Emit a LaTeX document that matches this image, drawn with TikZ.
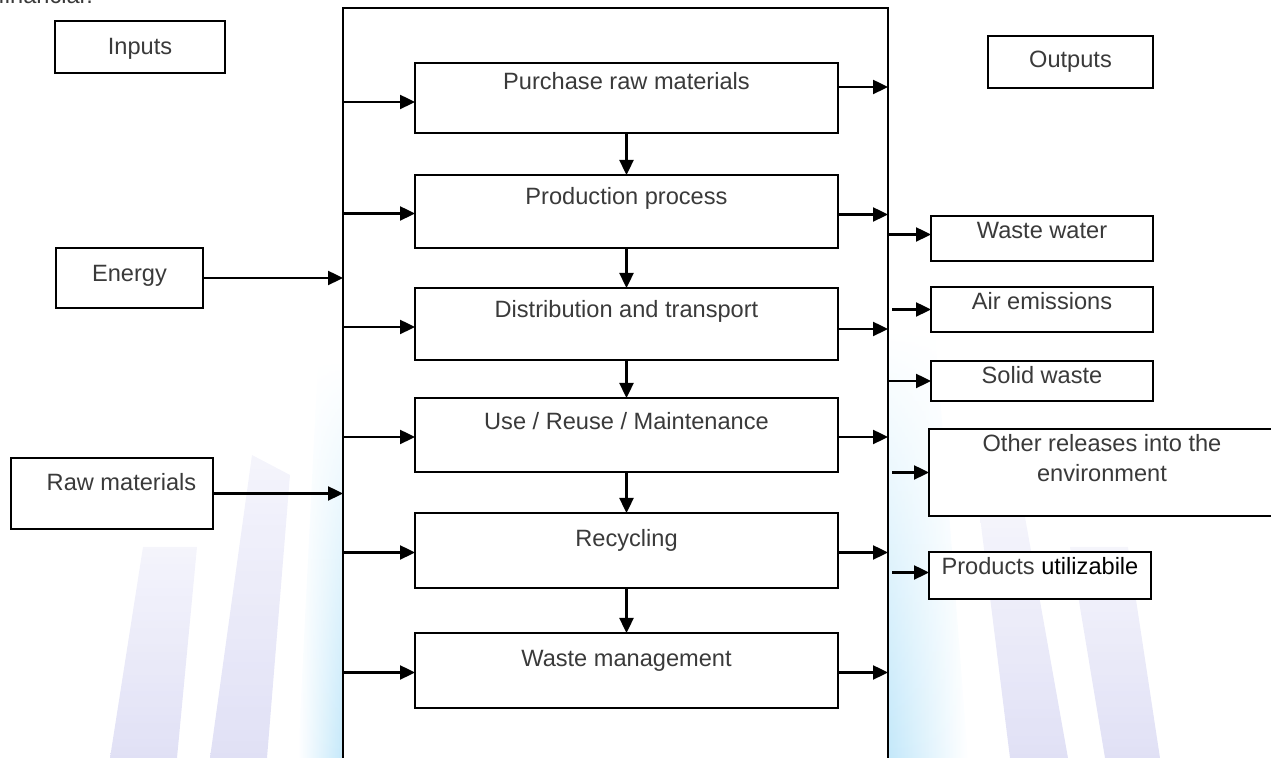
\documentclass[tikz,border=0pt]{standalone}
\usepackage{fontspec}
\setmainfont{Liberation Sans}
\usetikzlibrary{arrows.meta,fadings}
\definecolor{ink}{HTML}{3A3A3A}
\definecolor{wmblue}{RGB}{196,232,250}
\definecolor{wmlav}{RGB}{214,214,242}
\tikzfading[name=bandfade, top color=transparent!100,
  middle color=transparent!15, bottom color=transparent!0]
\begin{document}
\begin{tikzpicture}[x=0.5pt,y=-0.5pt,
  box/.style={draw=black, line width=1pt, fill=white, anchor=north west,
              inner sep=0pt, outer sep=0pt},
  txt/.style={anchor=base, inner sep=0pt, text=ink,
              font=\fontsize{11.8}{15}\selectfont},
  arr/.style={line width=1.2pt, -{Triangle[length=7.5pt,width=7pt]}},
  band/.style={path fading=bandfade},
  bar/.style={top color=wmlav!35, bottom color=wmlav, opacity=0.75}]
\useasboundingbox (0,0) rectangle (1271,758);
\clip (0,0) rectangle (1271,758);

% faint background bands
\shade[band, left color=white, right color=wmblue] (318,360) -- (343,360) -- (343,758) -- (298,758) -- cycle;
\shade[band, left color=wmblue, right color=white] (889,330) -- (935,330) -- (968,758) -- (889,758) -- cycle;
\shade[bar] (143,547) -- (197,547) -- (177,758) -- (110,758) -- cycle;
\shade[bar] (252,455) -- (290,475) -- (267,758) -- (210,758) -- cycle;
\shade[bar] (980,517) -- (1025,517) -- (1068,758) -- (1010,758) -- cycle;
\shade[bar] (1070,547) -- (1128,547) -- (1160,758) -- (1105,758) -- cycle;

% sentence ending above the figure
\node[txt, anchor=base west] (prev) at (-2,4) {financiar.};

% main life-cycle frame (open at the bottom)
\node[box, minimum width=272.5pt, minimum height=400pt] (main) at (343,8) {};

% input side
\node[box, minimum width=85pt, minimum height=26pt] (inputs) at (55,21) {};
\node[txt] (inputsT) at (140,55) {Inputs};
\node[box, minimum width=73.5pt, minimum height=30pt] (energy) at (56,248) {};
\node[txt] (energyT) at (129.5,282) {Energy};
\node[box, minimum width=101pt, minimum height=35.5pt] (raw) at (11,458) {};
\node[txt] (rawT) at (121.5,491) {Raw materials};

% stages
\node[box, minimum width=211.5pt, minimum height=35pt]   (p1) at (415,63)  {};
\node[box, minimum width=211.5pt, minimum height=36.5pt] (p2) at (415,175) {};
\node[box, minimum width=211.5pt, minimum height=36pt]   (p3) at (415,288) {};
\node[box, minimum width=211.5pt, minimum height=37pt]   (p4) at (415,398) {};
\node[box, minimum width=211.5pt, minimum height=37.5pt] (p5) at (415,513) {};
\node[box, minimum width=211.5pt, minimum height=37.5pt] (p6) at (415,633) {};
\node[txt] (p1T) at (626.5,90)  {Purchase raw materials};
\node[txt] (p2T) at (626.5,205) {Production process};
\node[txt] (p3T) at (626.5,318) {Distribution and transport};
\node[txt] (p4T) at (626.5,430) {Use / Reuse / Maintenance};
\node[txt] (p5T) at (626.5,547) {Recycling};
\node[txt] (p6T) at (626.5,667) {Waste management};

% output side
\node[box, minimum width=82.5pt, minimum height=26pt] (outputs) at (988,36) {};
\node[txt] (outputsT) at (1070.5,68) {Outputs};
\node[box, minimum width=111pt, minimum height=22.5pt] (ww) at (931,216) {};
\node[txt] (wwT) at (1042,239) {Waste water};
\node[box, minimum width=111pt, minimum height=22.5pt] (air) at (931,287) {};
\node[txt] (airT) at (1042,310) {Air emissions};
\node[box, minimum width=111pt, minimum height=20pt] (solid) at (931,361) {};
\node[txt] (solidT) at (1042,384) {Solid waste};
\node[box, minimum width=173pt, minimum height=43.5pt] (other) at (929,429) {};
\node[txt] (otherT1) at (1102,452) {Other releases into the};
\node[txt] (otherT2) at (1102,482) {environment};
\node[box, minimum width=111pt, minimum height=23.5pt] (prod) at (929,552) {};
\node[txt] (prodT) at (1040,575) {Products \textcolor{black}{utilizabile}};

% inputs into the frame
\draw[arr] (energy.east) -- (energy.east -| main.west);
\draw[arr] (raw.east) -- (raw.east -| main.west);

% frame into each stage
\draw[arr] ([yshift=-2pt]p1.west -| main.west) -- ([yshift=-2pt]p1.west);
\draw[arr] ([yshift=-1pt]p2.west -| main.west) -- ([yshift=-1pt]p2.west);
\draw[arr] ([yshift=-1.5pt]p3.west -| main.west) -- ([yshift=-1.5pt]p3.west);
\draw[arr] ([yshift=-1pt]p4.west -| main.west) -- ([yshift=-1pt]p4.west);
\draw[arr] ([yshift=-1pt]p5.west -| main.west) -- ([yshift=-1pt]p5.west);
\draw[arr] ([yshift=-1pt]p6.west -| main.west) -- ([yshift=-1pt]p6.west);

% stage to stage
\draw[arr] (p1.south) -- (p2.north);
\draw[arr] (p2.south) -- (p3.north);
\draw[arr] (p3.south) -- (p4.north);
\draw[arr] (p4.south) -- (p5.north);
\draw[arr] (p5.south) -- (p6.north);

% each stage out to the frame
\draw[arr] ([yshift=5.5pt]p1.east) -- ([yshift=5.5pt]p1.east -| main.east);
\draw[arr] ([yshift=-1.5pt]p2.east) -- ([yshift=-1.5pt]p2.east -| main.east);
\draw[arr] ([yshift=-2.5pt]p3.east) -- ([yshift=-2.5pt]p3.east -| main.east);
\draw[arr] ([yshift=-1pt]p4.east) -- ([yshift=-1pt]p4.east -| main.east);
\draw[arr] ([yshift=-1pt]p5.east) -- ([yshift=-1pt]p5.east -| main.east);
\draw[arr] ([yshift=-1pt]p6.east) -- ([yshift=-1pt]p6.east -| main.east);

% frame out to the releases
\draw[arr] ([yshift=2pt]ww.west -| main.east) -- ([yshift=2pt]ww.west);
\draw[arr] ([xshift=2pt]air.west -| main.east) -- (air.west);
\draw[arr] (solid.west -| main.east) -- (solid.west);
\draw[arr] ([xshift=2pt]other.west -| main.east) -- (other.west);
\draw[arr] ([xshift=2pt,yshift=1.5pt]prod.west -| main.east) -- ([yshift=1.5pt]prod.west);
\end{tikzpicture}
\end{document}
